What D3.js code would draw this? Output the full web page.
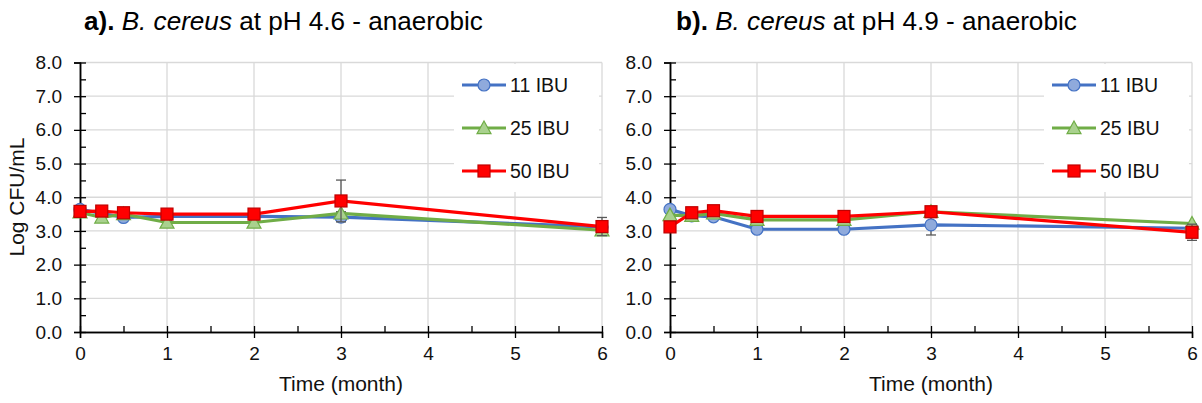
<!DOCTYPE html>
<html>
<head>
<meta charset="utf-8">
<script src="https://cdn.jsdelivr.net/npm/d3@7"></script>
<style>
  body { margin: 0; background: #fff; }
  svg { display: block; font-family: Arial, "Liberation Sans", sans-serif; }
</style>
</head>
<body>
<div id="chart"></div>
<script>
// sampling times (months)
const months = [0, 0.25, 0.5, 1, 2, 3, 6];
const seriesNames = ["11 IBU", "25 IBU", "50 IBU"];
const yTicks = [0, 1, 2, 3, 4, 5, 6, 7, 8];
const xTicks = [0, 1, 2, 3, 4, 5, 6];

// panel a) pH 4.6
const phA_11 = [3.64, 3.52, 3.40, 3.43, 3.43, 3.41, 3.12];
const phA_25 = [3.55, 3.40, 3.50, 3.25, 3.25, 3.52, 3.02];
const phA_50 = [3.58, 3.59, 3.54, 3.50, 3.50, 3.89, 3.13];
const phA_err11 = [0.05, 0, 0, 0, 0, 0.13, 0.05];
const phA_err25 = [0, 0, 0, 0, 0, 0.05, 0.04];
const phA_err50 = [0, 0, 0, 0, 0, 0.62, 0.27];

// panel b) pH 4.9
const phB_11 = [3.64, 3.45, 3.42, 3.05, 3.05, 3.18, 3.08];
const phB_25 = [3.47, 3.45, 3.52, 3.33, 3.33, 3.57, 3.22];
const phB_50 = [3.12, 3.54, 3.60, 3.43, 3.43, 3.57, 2.96];
const phB_err11 = [0, 0, 0, 0, 0, 0.30, 0];
const phB_err25 = [0, 0, 0, 0, 0, 0, 0];
const phB_err50 = [0, 0, 0, 0, 0, 0, 0.24];

const colors = ["#4472C4", "#70AD47", "#FF0000"];
const fills = ["#8FAADC", "#A9D18E", "#FF0000"];
const strokes = ["#4472C4", "#70AD47", "#C00000"];

const width = 1202, height = 403;

const svg = d3.select("#chart").append("svg")
  .attr("width", width)
  .attr("height", height);

function drawMarker(sel, i, x, y) {
  if (i === 0) {
    sel.append("circle").attr("cx", x).attr("cy", y).attr("r", 6)
      .attr("fill", fills[i]).attr("stroke", strokes[i]).attr("stroke-width", 1.2);
  } else if (i === 1) {
    const s = 7;
    sel.append("path")
      .attr("d", `M${x},${y - s}L${x + s},${y + s * 0.8}L${x - s},${y + s * 0.8}Z`)
      .attr("fill", fills[i]).attr("stroke", strokes[i]).attr("stroke-width", 1.2);
  } else {
    sel.append("rect").attr("x", x - 6).attr("y", y - 6).attr("width", 12).attr("height", 12)
      .attr("fill", fills[i]).attr("stroke", strokes[i]).attr("stroke-width", 1.2);
  }
}

function drawPanel(p) {
  const x = d3.scaleLinear().domain([0, 6]).range([p.left, p.right]);
  const y = d3.scaleLinear().domain([0, 8]).range([332, 62.5]);
  const g = svg.append("g");

  // grid
  g.append("g").selectAll("line").data(yTicks.slice(1)).join("line")
    .attr("x1", p.left).attr("x2", p.right)
    .attr("y1", d => y(d)).attr("y2", d => y(d))
    .attr("stroke", "#d9d9d9").attr("stroke-width", 1.3);
  g.append("g").selectAll("line").data(xTicks.slice(1)).join("line")
    .attr("x1", d => x(d)).attr("x2", d => x(d))
    .attr("y1", y(0)).attr("y2", y(8))
    .attr("stroke", "#d9d9d9").attr("stroke-width", 1.3);

  // axes
  g.append("g").attr("transform", `translate(${p.left},0)`)
    .call(d3.axisLeft(y).tickValues(yTicks).tickFormat(d3.format(".1f")).tickSize(6).tickPadding(12));
  g.append("g").attr("transform", `translate(${p.left},0)`)
    .call(d3.axisRight(y).tickValues(d3.range(0, 8.01, 0.5)).tickFormat("").tickSize(6).tickSizeOuter(0));
  g.append("g").attr("transform", `translate(0,${y(0)})`)
    .call(d3.axisBottom(x).tickValues(xTicks).tickFormat(d3.format("d")).tickSize(6).tickPadding(9));
  g.append("g").attr("transform", `translate(0,${y(0)})`)
    .call(d3.axisTop(x).tickValues(d3.range(0, 6.01, 0.5)).tickFormat("").tickSize(6).tickSizeOuter(0));
  g.selectAll(".domain").attr("stroke", "#000").attr("stroke-width", 1.5);
  g.selectAll(".tick line").attr("stroke", "#000").attr("stroke-width", 1.3);
  g.selectAll(".tick text").attr("font-size", 19).attr("fill", "#111");

  // x label
  g.append("text")
    .attr("x", (p.left + p.right) / 2).attr("y", 391)
    .attr("text-anchor", "middle").attr("font-size", 21).attr("fill", "#111")
    .text("Time (month)");

  // title, stretched a bit wider like the original figure
  const tg = g.append("g");
  const t = tg.append("text")
    .attr("x", 0).attr("y", 0)
    .attr("font-size", 25).attr("fill", "#000");
  t.append("tspan").attr("font-weight", "bold").text(p.label);
  t.append("tspan").attr("font-style", "italic").text(" B. cereus");
  t.append("tspan").text(` at pH ${p.ph} - anaerobic`);
  const len = t.node().getComputedTextLength();
  tg.attr("transform", `translate(${p.titleStart},30) scale(${p.titleWidth / len},1)`);

  // legend box (white background hides grid)
  const lg = g.append("g");
  lg.append("rect").attr("x", p.legendX - 8).attr("y", 64)
    .attr("width", p.right - 3 - (p.legendX - 8)).attr("height", 128).attr("fill", "#fff");

  // series
  const line = d3.line().x(d => x(d.t)).y(d => y(d.v));
  p.series.forEach((vals, i) => {
    const pts = months.map((t, k) => ({ t: t, v: vals[k], e: p.errors[i][k] }));
    const eg = g.append("g").attr("stroke", "#595959").attr("stroke-width", 1.3);
    pts.filter(d => d.e > 0).forEach(d => {
      eg.append("line").attr("x1", x(d.t)).attr("x2", x(d.t))
        .attr("y1", y(d.v - d.e)).attr("y2", y(d.v + d.e));
      [d.v - d.e, d.v + d.e].forEach(v => {
        eg.append("line").attr("x1", x(d.t) - 5).attr("x2", x(d.t) + 5)
          .attr("y1", y(v)).attr("y2", y(v));
      });
    });
    g.append("path").datum(pts)
      .attr("d", line).attr("fill", "none")
      .attr("stroke", colors[i]).attr("stroke-width", 3.2);
    const mg = g.append("g");
    pts.forEach(d => drawMarker(mg, i, x(d.t), y(d.v)));
  });

  // legend entries
  seriesNames.forEach((name, i) => {
    const ly = 85 + i * 43;
    lg.append("line").attr("x1", p.legendX).attr("x2", p.legendX + 44)
      .attr("y1", ly).attr("y2", ly)
      .attr("stroke", colors[i]).attr("stroke-width", 3.2);
    drawMarker(lg, i, p.legendX + 22, ly);
    lg.append("text").attr("x", p.legendX + 48).attr("y", ly + 7)
      .attr("font-size", 19.5).attr("fill", "#111").text(name);
  });
  return g;
}

drawPanel({
  left: 80, right: 602, titleStart: 84, titleWidth: 399, label: "a).", ph: "4.6", legendX: 462,
  series: [phA_11, phA_25, phA_50],
  errors: [phA_err11, phA_err25, phA_err50]
});
drawPanel({
  left: 670, right: 1192, titleStart: 676, titleWidth: 401, label: "b).", ph: "4.9", legendX: 1052,
  series: [phB_11, phB_25, phB_50],
  errors: [phB_err11, phB_err25, phB_err50]
});

// y-axis title (only on left panel)
svg.append("text")
  .attr("transform", "translate(24,197) rotate(-90)")
  .attr("text-anchor", "middle").attr("font-size", 21).attr("fill", "#111")
  .text("Log CFU/mL");
</script>
</body>
</html>
